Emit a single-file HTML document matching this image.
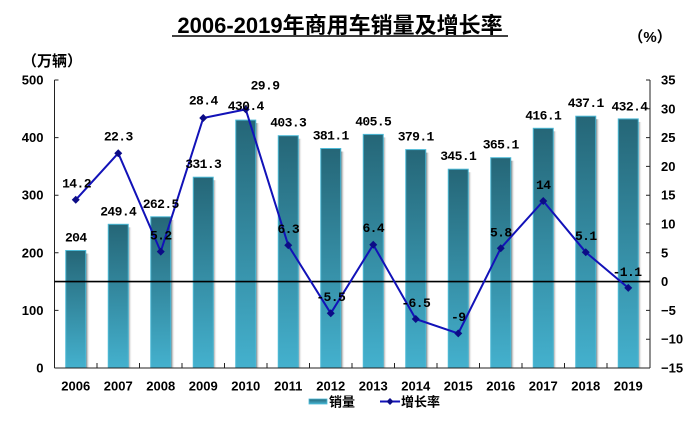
<!DOCTYPE html>
<html><head><meta charset="utf-8"><style>
html,body{margin:0;padding:0;background:#fff;}
svg{display:block;}
.ax{font-family:"Liberation Sans","Noto Sans CJK SC",sans-serif;font-weight:bold;font-size:13px;fill:#000;}
.lb{font-family:"Liberation Mono","Noto Sans CJK SC",monospace;font-weight:bold;font-size:13px;letter-spacing:-0.6px;fill:#000;}
.cj{font-family:"Liberation Sans","Noto Sans CJK SC",sans-serif;font-weight:bold;fill:#000;}
</style></head><body>
<svg width="700" height="423" viewBox="0 0 700 423" xmlns="http://www.w3.org/2000/svg">
<defs>
<linearGradient id="bg" x1="0" y1="0" x2="0" y2="1">
<stop offset="0" stop-color="#256677"/>
<stop offset="1" stop-color="#44b1ce"/>
</linearGradient>
<linearGradient id="sh" x1="0" y1="0" x2="1" y2="0">
<stop offset="0" stop-color="#7a7a7a"/>
<stop offset="1" stop-color="#ffffff" stop-opacity="0"/>
</linearGradient>
</defs>
<rect width="700" height="423" fill="#fff"/>

<!-- title -->
<text x="340" y="33" text-anchor="middle" class="cj" font-size="22">2006-2019年商用车销量及增长率</text>
<line x1="172" y1="36" x2="508" y2="36" stroke="#000" stroke-width="1.5"/>
<text x="52" y="66" text-anchor="middle" class="cj" font-size="15">（万辆）</text>
<text x="650" y="42" text-anchor="middle" class="cj" font-size="15">（%）</text>

<!-- bars -->
<g id="bars">
<rect x="86" y="253.5" width="4" height="114.5" fill="url(#sh)"/><rect x="65.75" y="250.5" width="20" height="117.5" fill="url(#bg)" stroke="#4cb9d6" stroke-width="1"/>
<rect x="128" y="227.3" width="4" height="140.7" fill="url(#sh)"/><rect x="108.25" y="224.3" width="20" height="143.7" fill="url(#bg)" stroke="#4cb9d6" stroke-width="1"/>
<rect x="171" y="219.8" width="4" height="148.2" fill="url(#sh)"/><rect x="150.75" y="216.8" width="20" height="151.2" fill="url(#bg)" stroke="#4cb9d6" stroke-width="1"/>
<rect x="213" y="180.2" width="4" height="187.8" fill="url(#sh)"/><rect x="193.25" y="177.2" width="20" height="190.8" fill="url(#bg)" stroke="#4cb9d6" stroke-width="1"/>
<rect x="256" y="123.1" width="4" height="244.9" fill="url(#sh)"/><rect x="235.75" y="120.1" width="20" height="247.9" fill="url(#bg)" stroke="#4cb9d6" stroke-width="1"/>
<rect x="298" y="138.7" width="4" height="229.3" fill="url(#sh)"/><rect x="278.25" y="135.7" width="20" height="232.3" fill="url(#bg)" stroke="#4cb9d6" stroke-width="1"/>
<rect x="341" y="151.5" width="4" height="216.5" fill="url(#sh)"/><rect x="320.75" y="148.5" width="20" height="219.5" fill="url(#bg)" stroke="#4cb9d6" stroke-width="1"/>
<rect x="383" y="137.4" width="4" height="230.6" fill="url(#sh)"/><rect x="363.25" y="134.4" width="20" height="233.6" fill="url(#bg)" stroke="#4cb9d6" stroke-width="1"/>
<rect x="426" y="152.6" width="4" height="215.4" fill="url(#sh)"/><rect x="405.75" y="149.6" width="20" height="218.4" fill="url(#bg)" stroke="#4cb9d6" stroke-width="1"/>
<rect x="468" y="172.2" width="4" height="195.8" fill="url(#sh)"/><rect x="448.25" y="169.2" width="20" height="198.8" fill="url(#bg)" stroke="#4cb9d6" stroke-width="1"/>
<rect x="511" y="160.7" width="4" height="207.3" fill="url(#sh)"/><rect x="490.75" y="157.7" width="20" height="210.3" fill="url(#bg)" stroke="#4cb9d6" stroke-width="1"/>
<rect x="553" y="131.3" width="4" height="236.7" fill="url(#sh)"/><rect x="533.25" y="128.3" width="20" height="239.7" fill="url(#bg)" stroke="#4cb9d6" stroke-width="1"/>
<rect x="596" y="119.2" width="4" height="248.8" fill="url(#sh)"/><rect x="575.75" y="116.2" width="20" height="251.8" fill="url(#bg)" stroke="#4cb9d6" stroke-width="1"/>
<rect x="638" y="121.9" width="4" height="246.1" fill="url(#sh)"/><rect x="618.25" y="118.9" width="20" height="249.1" fill="url(#bg)" stroke="#4cb9d6" stroke-width="1"/>
</g>

<!-- axes -->
<g stroke="#222" stroke-width="1" fill="none">
<line x1="54.5" y1="80" x2="54.5" y2="368"/>
<line x1="650" y1="80" x2="650" y2="368"/>
<line x1="54.5" y1="368" x2="650" y2="368"/>
<path d="M54.5 80h4M54.5 137.6h4M54.5 195.2h4M54.5 252.8h4M54.5 310.4h4"/>
<path d="M650 80h-4M650 108.8h-4M650 137.6h-4M650 166.4h-4M650 195.2h-4M650 224h-4M650 252.8h-4M650 310.4h-4M650 339.2h-4"/>
<path d="M97 368v-5M139.5 368v-5M182 368v-5M224.5 368v-5M267 368v-5M309.5 368v-5M352 368v-5M394.5 368v-5M437 368v-5M479.5 368v-5M522 368v-5M564.5 368v-5M607 368v-5"/>
</g>
<line x1="54.5" y1="281.6" x2="650" y2="281.6" stroke="#000" stroke-width="1.6"/>

<!-- left ticks -->
<g class="ax" text-anchor="end">
<text x="43.5" y="84.5">500</text>
<text x="43.5" y="142.1">400</text>
<text x="43.5" y="199.7">300</text>
<text x="43.5" y="257.3">200</text>
<text x="43.5" y="314.9">100</text>
<text x="43.5" y="372.5">0</text>
</g>
<!-- right ticks -->
<g class="ax" text-anchor="start">
<text x="661" y="84.5">35</text>
<text x="661" y="113.3">30</text>
<text x="661" y="142.1">25</text>
<text x="661" y="170.9">20</text>
<text x="661" y="199.7">15</text>
<text x="661" y="228.5">10</text>
<text x="661" y="257.3">5</text>
<text x="661" y="286.1">0</text>
<text x="661" y="314.9">−5</text>
<text x="661" y="343.7">−10</text>
<text x="661" y="372.5">−15</text>
</g>
<!-- years -->
<g class="ax" text-anchor="middle">
<text x="75.75" y="390.5">2006</text>
<text x="118.25" y="390.5">2007</text>
<text x="160.75" y="390.5">2008</text>
<text x="203.25" y="390.5">2009</text>
<text x="245.75" y="390.5">2010</text>
<text x="288.25" y="390.5">2011</text>
<text x="330.75" y="390.5">2012</text>
<text x="373.25" y="390.5">2013</text>
<text x="415.75" y="390.5">2014</text>
<text x="458.25" y="390.5">2015</text>
<text x="500.75" y="390.5">2016</text>
<text x="543.25" y="390.5">2017</text>
<text x="585.75" y="390.5">2018</text>
<text x="628.25" y="390.5">2019</text>
</g>

<!-- line -->
<polyline fill="none" stroke="#1212b8" stroke-width="2" stroke-linejoin="round"
points="75.75,199.8 118.25,153.2 160.75,251.6 203.25,118 245.75,109.4 288.25,245.3 330.75,313.3 373.25,244.7 415.75,319 458.25,333.4 500.75,248.2 543.25,201 585.75,252.2 628.25,287.9"/>
<g fill="#0c0c86">
<path d="M75.75 195.8l4 4-4 4-4-4z"/>
<path d="M118.25 149.2l4 4-4 4-4-4z"/>
<path d="M160.75 247.6l4 4-4 4-4-4z"/>
<path d="M203.25 114l4 4-4 4-4-4z"/>
<path d="M245.75 105.4l4 4-4 4-4-4z"/>
<path d="M288.25 241.3l4 4-4 4-4-4z"/>
<path d="M330.75 309.3l4 4-4 4-4-4z"/>
<path d="M373.25 240.7l4 4-4 4-4-4z"/>
<path d="M415.75 315l4 4-4 4-4-4z"/>
<path d="M458.25 329.4l4 4-4 4-4-4z"/>
<path d="M500.75 244.2l4 4-4 4-4-4z"/>
<path d="M543.25 197l4 4-4 4-4-4z"/>
<path d="M585.75 248.2l4 4-4 4-4-4z"/>
<path d="M628.25 283.9l4 4-4 4-4-4z"/>
</g>

<!-- bar labels -->
<g class="lb" text-anchor="middle">
<text x="75.75" y="241.5">204</text>
<text x="118.25" y="215.3">249.4</text>
<text x="160.75" y="207.8">262.5</text>
<text x="203.25" y="168.2">331.3</text>
<text x="245.75" y="110.1">430.4</text>
<text x="288.25" y="126.7">403.3</text>
<text x="330.75" y="139.5">381.1</text>
<text x="373.25" y="125.4">405.5</text>
<text x="415.75" y="140.6">379.1</text>
<text x="458.25" y="160.2">345.1</text>
<text x="500.75" y="148.7">365.1</text>
<text x="543.25" y="119.3">416.1</text>
<text x="585.75" y="107.2">437.1</text>
<text x="629.5" y="110.4">432.4</text>
</g>
<!-- growth labels -->
<g class="lb" text-anchor="middle">
<text x="76.5" y="187.3">14.2</text>
<text x="118.25" y="140.7">22.3</text>
<text x="160.75" y="239.6">5.2</text>
<text x="203.25" y="104.5">28.4</text>
<text x="265" y="89.5">29.9</text>
<text x="288.25" y="232.8">6.3</text>
<text x="330.75" y="301.2">-5.5</text>
<text x="373.25" y="232.2">6.4</text>
<text x="415.75" y="307">-6.5</text>
<text x="458.25" y="321.2">-9</text>
<text x="500.75" y="236.5">5.8</text>
<text x="543.25" y="189">14</text>
<text x="585.75" y="240.2">5.1</text>
<text x="627" y="276.2">-1.1</text>
</g>

<!-- legend -->
<rect x="309" y="399" width="18" height="5" fill="url(#bg)" stroke="#4cb9d6" stroke-width="0.8"/>
<text x="329" y="406.5" class="cj" font-size="13">销量</text>
<line x1="380" y1="401.5" x2="400" y2="401.5" stroke="#1212b8" stroke-width="2"/>
<path d="M390 398l3.5 3.5-3.5 3.5-3.5-3.5z" fill="#0c0c86"/>
<text x="401" y="406.5" class="cj" font-size="13">增长率</text>
</svg>
</body></html>
